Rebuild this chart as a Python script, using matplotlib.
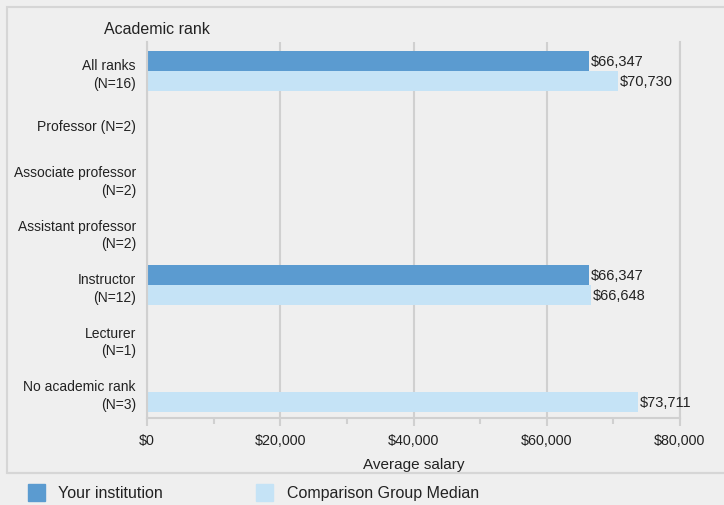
import numpy as np
import matplotlib.pyplot as plt
from matplotlib.patches import Rectangle
from matplotlib.lines import Line2D

plt.rcParams['font.family'] = ['Liberation Sans', 'DejaVu Sans']

categories = ["All ranks\n(N=16)", "Professor (N=2)", "Associate professor\n(N=2)",
              "Assistant professor\n(N=2)", "Instructor\n(N=12)", "Lecturer\n(N=1)",
              "No academic rank\n(N=3)"]
yours = [66347, np.nan, np.nan, np.nan, 66347, np.nan, np.nan]
comparison = [70730, np.nan, np.nan, np.nan, 66648, np.nan, 73711]
series_names = ["Your institution", "Comparison Group Median"]
colors = ["#5b9bd0", "#c5e3f6"]

W, H = 724, 506
fig = plt.figure(figsize=(W / 100, H / 100), dpi=100)
fig.patch.set_facecolor("#efefef")

# outer frame and legend separator
fig.add_artist(Rectangle((7 / W, 1 - 474 / H), 1, 466 / H, transform=fig.transFigure,
                         fill=False, edgecolor="#d6d6d6", linewidth=1.5))
fig.add_artist(Line2D([7 / W, 1], [1 - 474 / H] * 2, transform=fig.transFigure,
                      color="#d6d6d6", linewidth=1.5))

ax = fig.add_axes([147 / W, 1 - 419 / H, (680 - 147) / W, (419 - 43) / H])
ax.set_facecolor("#efefef")

y = np.arange(len(categories))
h = 0.383
ax.barh(y - h / 2, yours, height=h, color=colors[0], label=series_names[0])
ax.barh(y + h / 2, comparison, height=h, color=colors[1], label=series_names[1])

for i in range(len(categories)):
    for v, off in ((yours[i], -h / 2), (comparison[i], h / 2)):
        if not np.isnan(v):
            ax.text(v + 300, y[i] + off, f"${v:,.0f}", va="center", ha="left",
                    fontsize=10.5, color="#222222")

ax.set_xlim(0, 80000)
ax.set_ylim(6.486, -0.542)
ax.set_yticks(y)
ax.set_yticklabels(categories, fontsize=10, color="#222222", linespacing=1.3)
ax.set_xticks(np.arange(0, 80001, 20000))
ax.set_xticks(np.arange(10000, 80000, 20000), minor=True)
ax.set_xticklabels([f"${v:,.0f}" for v in range(0, 80001, 20000)], fontsize=10.3, color="#222222")
ax.tick_params(axis="y", length=0, pad=8)
ax.tick_params(axis="x", which="major", length=6, color="#d0d0d0", width=1.5, pad=5)
ax.tick_params(axis="x", which="minor", length=4, color="#d0d0d0", width=1.5)
ax.set_xlabel("Average salary", fontsize=11, color="#222222", labelpad=7)
ax.grid(axis="x", color="#d0d0d0", linewidth=1.5)
ax.set_axisbelow(True)
ax.spines["top"].set_visible(False)
for s in ("left", "right", "bottom"):
    ax.spines[s].set_color("#d0d0d0")
    ax.spines[s].set_linewidth(1.5)

fig.text(104 / W, 1 - 30 / H, "Academic rank", fontsize=11.5, va="center", ha="left",
         color="#222222")

# legend row
for name, c, x0, tx in zip(series_names, colors, (28, 256), (58, 287)):
    fig.add_artist(Rectangle((x0 / W, 1 - 502 / H), 17 / W, 17 / H,
                             transform=fig.transFigure, color=c))
    fig.text(tx / W, 1 - 494 / H, name, fontsize=11.5, va="center", ha="left",
             color="#222222")

fig.savefig("out.png", dpi=100, facecolor=fig.get_facecolor())
